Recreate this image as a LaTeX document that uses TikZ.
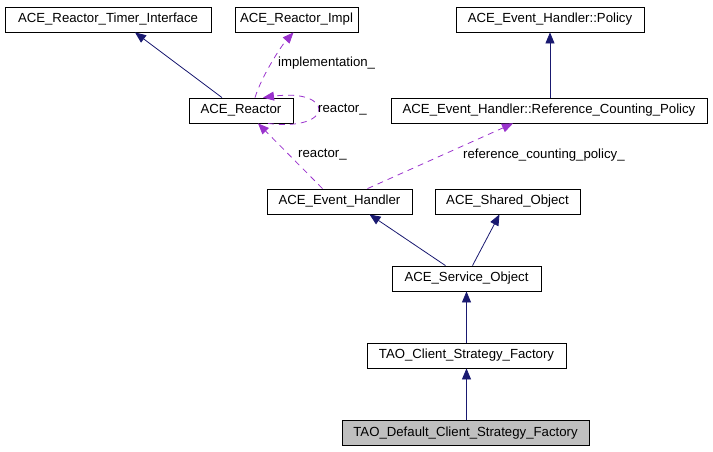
\documentclass[tikz,border=0pt]{standalone}
\usepackage{fontspec}
\setmainfont{Liberation Sans}
\usetikzlibrary{arrows.meta}
\definecolor{navy}{HTML}{191970}
\definecolor{orch}{HTML}{9A32CD}
\definecolor{boxgray}{HTML}{BFBFBF}
\tikzset{
  cls/.style={draw=black, line width=0.8pt, fill=white, minimum height=25pt, inner sep=0pt, font=\fontsize{13.2}{15}\selectfont},
  inh/.style={draw=navy, line width=0.8pt, -{Triangle[length=11pt,width=9pt]}, navy},
  use/.style={draw=orch, line width=0.8pt, dash pattern=on 6pt off 5pt, -{Triangle[length=11pt,width=9pt]}, orch},
  lbl/.style={anchor=west, inner sep=0pt, font=\fontsize{13.2}{15}\selectfont}
}
\begin{document}
\begin{tikzpicture}[x=1pt,y=-1pt]
\useasboundingbox (0,0) rectangle (713,451);
\node[cls, minimum width=206pt] (TI) at (108,19.5) {ACE\_Reactor\_Timer\_Interface};
\node[cls, minimum width=123pt] (IM) at (296.5,19.5) {ACE\_Reactor\_Impl};
\node[cls, minimum width=188pt] (PO) at (550,19.5) {ACE\_Event\_Handler::Policy};
\node[cls, minimum width=104pt] (R) at (241,110.5) {ACE\_Reactor};
\node[cls, minimum width=316pt] (RCP) at (549,110.5) {ACE\_Event\_Handler::Reference\_Counting\_Policy};
\node[cls, minimum width=145pt] (EH) at (339.5,201.5) {ACE\_Event\_Handler};
\node[cls, minimum width=145pt] (SH) at (507.5,201.5) {ACE\_Shared\_Object};
\node[cls, minimum width=149pt] (SV) at (466.5,278.5) {ACE\_Service\_Object};
\node[cls, minimum width=199pt] (CF) at (466.5,355.5) {TAO\_Client\_Strategy\_Factory};
\node[cls, minimum width=247pt, fill=boxgray] (DF) at (465.5,433) {TAO\_Default\_Client\_Strategy\_Factory};

\draw[inh] ([xshift=-19pt]R.north) -- ([xshift=27pt]TI.south);
\draw[use] ([xshift=14pt]R.north) .. controls (262,75) and (282,45) .. ([xshift=-3pt]IM.south);
\node[lbl] (l1) at (278,63) {implementation\_};
\draw[use] ([xshift=27pt]R.south) .. controls (335,132) and (335,88) .. ([xshift=22pt]R.north);
\node[lbl] (l2) at (318,110) {reactor\_};
\draw[use] ([xshift=-17pt]EH.north) -- ([xshift=17pt]R.south);
\node[lbl] (l3) at (298,155) {reactor\_};
\draw[use] ([xshift=28pt]EH.north) -- ([xshift=-36pt]RCP.south);
\node[lbl] (l4) at (463,155) {reference\_counting\_policy\_};
\draw[inh] ([xshift=1pt]RCP.north) -- (PO.south);
\draw[inh] ([xshift=-21pt]SV.north) -- ([xshift=30pt]EH.south);
\draw[inh] ([xshift=6pt]SV.north) -- ([xshift=-8pt]SH.south);
\draw[inh] (CF.north) -- (SV.south);
\draw[inh] ([xshift=1pt]DF.north) -- (CF.south);
\end{tikzpicture}
\end{document}
